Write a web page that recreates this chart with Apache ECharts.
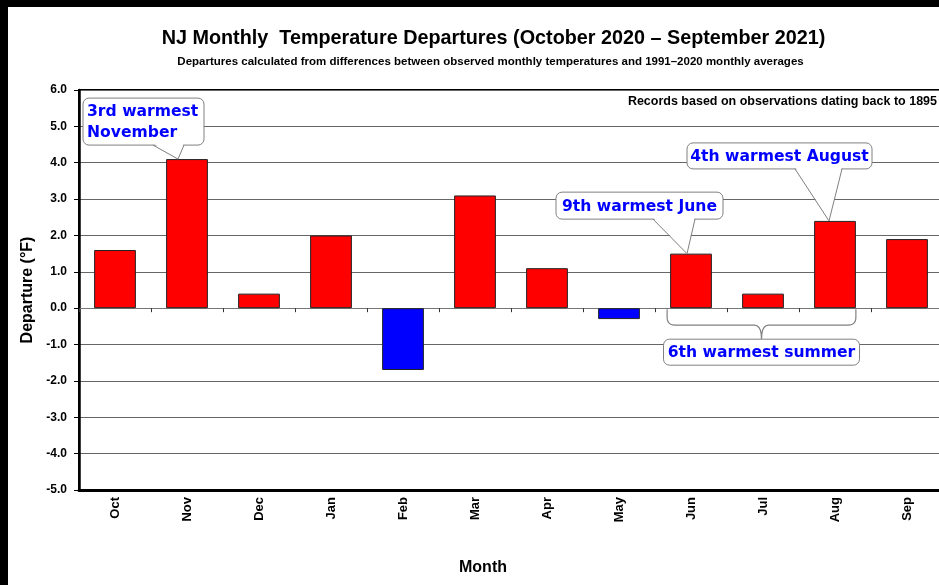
<!DOCTYPE html>
<html><head><meta charset="utf-8">
<script src="https://cdn.jsdelivr.net/npm/echarts@6/dist/echarts.min.js"></script>
<style>
html,body{margin:0;padding:0;background:#000;width:939px;height:585px;overflow:hidden}
#c{position:absolute;left:8px;top:7px;width:940px;height:578px;background:#fff}
</style></head><body><div id="c"></div>
<script>
// ---- data ----
const months = ['Oct','Nov','Dec','Jan','Feb','Mar','Apr','May','Jun','Jul','Aug','Sep'];
const departures = [1.6, 4.1, 0.4, 2.0, -1.7, 3.1, 1.1, -0.3, 1.5, 0.4, 2.4, 1.9];
const yMin = -5, yMax = 6, yStep = 1;
const titleText = 'NJ Monthly  Temperature Departures (October 2020 \u2013 September 2021)';
const subtitleText = 'Departures calculated from differences between observed monthly temperatures and 1991\u20132020 monthly averages';
const noteText = 'Records based on observations dating back to 1895';
const calloutTexts = ['3rd warmest\nNovember', '9th warmest June', '4th warmest August'];
const calloutMonths = ['Nov', 'Jun', 'Aug'];
const summerText = '6th warmest summer';
const summerMonths = ['Jun', 'Aug'];

// ---- layout (pixel offsets relative to bar top) ----
const calloutLayout = [
  {dx:-104, dy:-61, w:121, h:47, b0:-34, b1:-3, tip:-9, align:'left'},
  {dx:-135, dy:-61.5, w:167, h:27, b0:-38, b1:4, tip:-4, align:'center'},
  {dx:-148, dy:-78, w:185, h:26, b0:-40, b1:7, tip:-6, align:'center'}
];
const BAR_FRAC = 0.58;
const BOX_STROKE = '#808080';
const CALLOUT_FONT = 'bold 15.6px "DejaVu Sans", Verdana, sans-serif';
const FONT = '"Liberation Sans", Arial, sans-serif';

const chart = echarts.init(document.getElementById('c'), null, {renderer:'canvas'});

const option = {
  animation: false,
  backgroundColor: '#fff',
  textStyle: {fontFamily: FONT},
  grid: {left: 71, top: 83, width: 864, height: 400, show: true,
         borderColor: '#000', borderWidth: 2, backgroundColor: 'transparent',
         outerBoundsMode: 'none', containLabel: false},
  xAxis: [
    {type: 'category', data: months, position: 'bottom',
     axisLine: {onZero: false, lineStyle: {color: '#000', width: 3}},
     axisTick: {show: false},
     axisLabel: {rotate: 90, interval: 0, fontSize: 13, fontWeight: 'bold', color: '#000', margin: 7, fontFamily: FONT},
     name: 'Month', nameLocation: 'middle', nameGap: 70,
     nameTextStyle: {fontSize: 16, fontWeight: 'bold', color: '#000', fontFamily: FONT, padding: [0, 56, 0, 0]}},
    {type: 'category', data: months, position: 'bottom',
     axisLine: {onZero: true, lineStyle: {color: '#777', width: 1}},
     axisTick: {show: true, length: 4, lineStyle: {color: '#333'}},
     axisLabel: {show: false}}
  ],
  yAxis: {
    type: 'value', min: yMin, max: yMax, interval: yStep,
    axisLine: {show: true, lineStyle: {color: '#000', width: 2.5}},
    axisTick: {show: true, length: 5, lineStyle: {color: '#000'}},
    axisLabel: {formatter: v => v.toFixed(1), fontSize: 12, fontWeight: 'bold', color: '#000', margin: 12, fontFamily: FONT},
    splitLine: {show: true, lineStyle: {color: '#666', width: 1}},
    name: 'Departure (\u00B0F)', nameLocation: 'middle', nameGap: 38, nameRotate: 90,
    nameTextStyle: {fontSize: 16, fontWeight: 'bold', color: '#000', fontFamily: FONT}
  },
  series: [{
    type: 'bar', xAxisIndex: 0, yAxisIndex: 0, data: departures,
    barWidth: (BAR_FRAC * 100) + '%',
    itemStyle: {color: p => (p.value < 0 ? '#0000ff' : '#ff0000'), borderColor: '#222', borderWidth: 1}
  }]
};
chart.setOption(option);

function quad(p0, p1, p2, n) {
  const pts = [];
  for (let i = 0; i <= n; i++) {
    const t = i / n, a = (1 - t) * (1 - t), b = 2 * (1 - t) * t, c = t * t;
    pts.push([a * p0[0] + b * p1[0] + c * p2[0], a * p0[1] + b * p1[1] + c * p2[1]]);
  }
  return pts;
}

function buildGraphics() {
  const els = [];
  // titles
  els.push({type: 'text', z: 50, style: {text: titleText, x: 485.5, y: 32, align: 'center', verticalAlign: 'middle',
            font: 'bold 19.8px "Liberation Sans", Arial, sans-serif', fill: '#000'}});
  els.push({type: 'text', z: 50, style: {text: subtitleText, x: 482.5, y: 55, align: 'center', verticalAlign: 'middle',
            font: 'bold 11.5px "Liberation Sans", Arial, sans-serif', fill: '#000'}});
  els.push({type: 'text', z: 50, style: {text: noteText, x: 929, y: 94.5, align: 'right', verticalAlign: 'middle',
            font: 'bold 12.5px "Liberation Sans", Arial, sans-serif', fill: '#000'}});

  calloutMonths.forEach((m, i) => {
    const idx = months.indexOf(m);
    const p = chart.convertToPixel({xAxisIndex: 0, yAxisIndex: 0}, [m, departures[idx]]);
    const L = calloutLayout[i];
    const bx = p[0] + L.dx, by = p[1] + L.dy;
    const base = by + L.h;
    const tip = [p[0] + L.tip, p[1]];
    els.push({type: 'rect', z: 100, shape: {x: bx, y: by, width: L.w, height: L.h, r: 6},
              style: {fill: '#fff', stroke: BOX_STROKE, lineWidth: 1}});
    els.push({type: 'polygon', z: 101, shape: {points: [[p[0] + L.b0 + 0.5, base - 1.5], tip, [p[0] + L.b1 - 0.5, base - 1.5]]},
              style: {fill: '#fff'}});
    els.push({type: 'polyline', z: 102, shape: {points: [[p[0] + L.b0, base], tip, [p[0] + L.b1, base]]},
              style: {stroke: BOX_STROKE, lineWidth: 1, fill: null}});
    els.push({type: 'text', z: 103, style: {
      text: calloutTexts[i], x: L.align === 'left' ? bx + 4 : bx + L.w / 2, y: by + L.h / 2 + 1,
      align: L.align, verticalAlign: 'middle', font: CALLOUT_FONT, fill: '#0000ff', lineHeight: 21}});
  });

  // summer bracket
  const i0 = months.indexOf(summerMonths[0]);
  const pa = chart.convertToPixel({xAxisIndex: 0, yAxisIndex: 0}, [summerMonths[0], 0]);
  const pb = chart.convertToPixel({xAxisIndex: 0, yAxisIndex: 0}, [summerMonths[1], 0]);
  const pn = chart.convertToPixel({xAxisIndex: 0, yAxisIndex: 0}, [months[i0 + 1], 0]);
  const band = pn[0] - pa[0];
  const half = band * BAR_FRAC / 2;
  const x0 = pa[0] - half - 3, x1 = pb[0] + half, y0 = pa[1] + 1;
  const y1 = y0 + 16, y2 = y0 + 30, mid = (x0 + x1) / 2;
  const pts = [].concat(
    [[x0, y0]],
    quad([x0, y1 - 8], [x0, y1], [x0 + 8, y1], 6),
    quad([mid - 7, y1], [mid, y1], [mid, y2], 5),
    quad([mid, y2], [mid, y1], [mid + 7, y1], 5).slice(1),
    quad([x1 - 8, y1], [x1, y1], [x1, y1 - 8], 6),
    [[x1, y0]]
  );
  els.push({type: 'polyline', z: 99, shape: {points: pts}, style: {stroke: BOX_STROKE, lineWidth: 1.2, fill: null}});
  const sw = 196, sh = 26;
  els.push({type: 'rect', z: 100, shape: {x: mid - sw / 2, y: y2, width: sw, height: sh, r: 6},
            style: {fill: '#fff', stroke: BOX_STROKE, lineWidth: 1}});
  els.push({type: 'text', z: 103, style: {text: summerText, x: mid, y: y2 + sh / 2 + 1, align: 'center',
            verticalAlign: 'middle', font: CALLOUT_FONT, fill: '#0000ff'}});
  chart.setOption({graphic: {elements: els}});
}
buildGraphics();
</script></body></html>
